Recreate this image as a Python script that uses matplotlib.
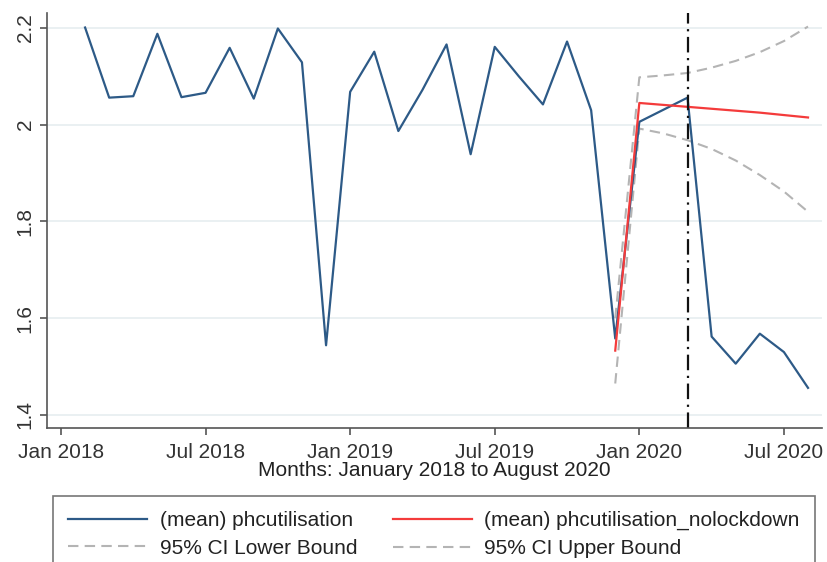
import matplotlib.pyplot as plt
import numpy as np

plt.rcParams['font.family'] = ['Liberation Sans', 'DejaVu Sans']

# months counted from Jan 2018 = 0
tick_pos = [0, 6, 12, 18, 24, 30]
tick_labels = ['Jan 2018', 'Jul 2018', 'Jan 2019', 'Jul 2019', 'Jan 2020', 'Jul 2020']

months_obs = list(range(1, 32))  # Feb 2018 .. Aug 2020
phcutilisation = [2.201, 2.056, 2.059, 2.188, 2.057, 2.066, 2.159, 2.054, 2.199, 2.129,
                  1.544, 2.068, 2.151, 1.987, 2.072, 2.166, 1.939, 2.161, 2.100, 2.042,
                  2.172, 2.030, 1.558, 2.006, 2.031, 2.056, 1.562, 1.506, 1.568, 1.530,
                  1.456]

months_pred = list(range(23, 32))  # Dec 2019 .. Aug 2020
nolockdown = [1.533, 2.045, 2.041, 2.037, 2.033, 2.029, 2.025, 2.020, 2.015]
ci_lower = [1.465, 1.992, 1.982, 1.968, 1.950, 1.926, 1.896, 1.862, 1.820]
ci_upper = [1.600, 2.098, 2.102, 2.107, 2.118, 2.132, 2.150, 2.173, 2.203]

lockdown_month = 26  # Mar 2020

fig = plt.figure(figsize=(8.27, 5.62), dpi=100)
ax = fig.add_axes([47/827, 1-428/562, 775/827, 415/562])

for yv in [1.4, 1.6, 1.8, 2.0, 2.2]:
    ax.axhline(yv, color='#e6eef0', lw=1.2, zorder=0)

ax.plot(months_pred, ci_lower, color='#b4b4b4', lw=1.5, ls=(0, (5, 3)), label='95% CI Lower Bound')
ax.plot(months_pred, ci_upper, color='#b4b4b4', lw=1.5, ls=(0, (5, 3)), label='95% CI Upper Bound')
ax.plot(months_obs, phcutilisation, color='#2d5a87', lw=1.6, label='(mean) phcutilisation')
ax.plot(months_pred, nolockdown, color='#f43b3b', lw=1.6, label='(mean) phcutilisation_nolockdown')
ax.axvline(lockdown_month, color='#111111', lw=1.6, ls=(0, (7, 2.5, 1, 2.5)))

ax.set_xlim(-0.58, 31.58)
ax.set_ylim(1.373, 2.231)
ax.set_xticks(tick_pos)
ax.set_xticklabels(tick_labels)
ax.set_yticks([1.4, 1.6, 1.8, 2.0, 2.2])
ax.set_yticklabels(['1.4', '1.6', '1.8', '2', '2.2'], rotation=90, va='center')
ax.tick_params(labelsize=15, colors='#333333', length=5, width=1.2, color='#555555', pad=4)
ax.tick_params(axis='x', pad=6)
for s in ['top', 'right']:
    ax.spines[s].set_visible(False)
for s in ['left', 'bottom']:
    ax.spines[s].set_color('#555555')
    ax.spines[s].set_linewidth(1.2)
ax.set_xlabel('Months: January 2018 to August 2020', fontsize=15, color='#222222', labelpad=-1)

h, l = ax.get_legend_handles_labels()
order = [2, 0, 3, 1]
leg = fig.legend([h[i] for i in order], [l[i] for i in order],
                 loc='upper left', bbox_to_anchor=(53/827, 1-496/562, 762/827, 0),
                 mode='expand', ncol=2, fontsize=15, frameon=True, fancybox=False,
                 handlelength=3.8, handletextpad=0.6, labelspacing=0.40,
                 borderpad=0.73, borderaxespad=0)
leg.get_frame().set_edgecolor('#555555')
leg.get_frame().set_linewidth(1.2)
for t in leg.get_texts():
    t.set_color('#222222')

fig.savefig('out.png', dpi=100)
